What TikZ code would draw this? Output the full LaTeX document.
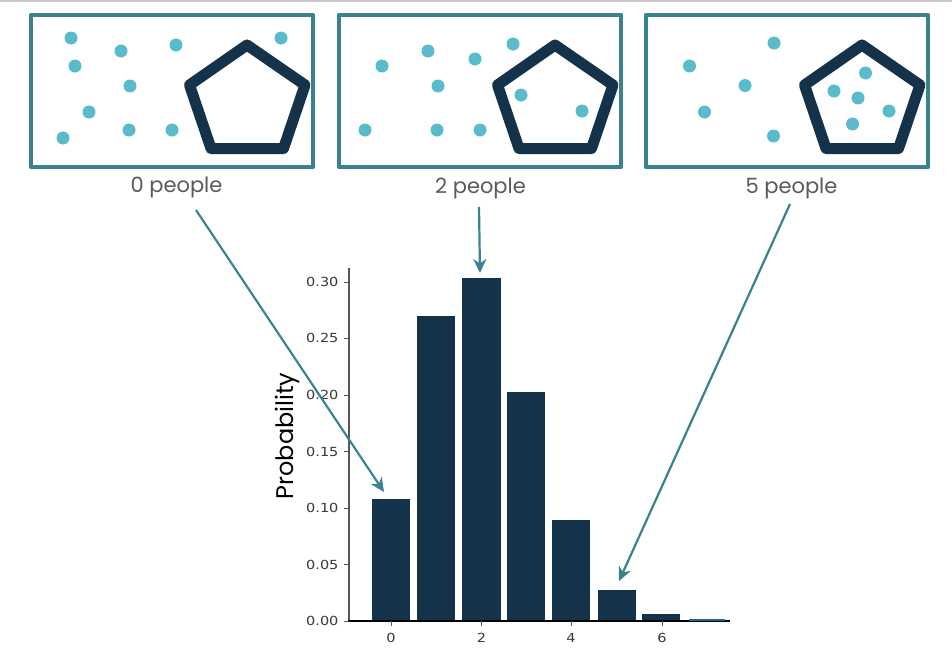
\documentclass[tikz,border=0pt]{standalone}
\usepackage{fontspec}
\setmainfont{Poppins}
\newfontfamily\tickfont[FakeStretch=1.16]{DejaVu Sans}
\usetikzlibrary{arrows.meta}
\definecolor{frameteal}{HTML}{3B8290}
\definecolor{dotblue}{HTML}{5ABBCB}
\definecolor{darknavy}{HTML}{14334A}
\definecolor{labelgray}{HTML}{5A5A5A}
\definecolor{ticktext}{HTML}{3A3A3A}
\definecolor{spinegray}{HTML}{555555}
\definecolor{lastbar}{HTML}{2A5FA8}
\tikzset{
    panelbox/.style={draw=frameteal, line width=4.2pt, line join=round},
    pentagonline/.style={draw=darknavy, line width=11pt, line join=round},
    person/.style={fill=dotblue},
    panellabel/.style={text=labelgray, font=\fontsize{21}{25}\selectfont, anchor=center},
    bar/.style={fill=darknavy},
    ticklabel/.style={text=ticktext, font=\tickfont\fontsize{12.5}{15}\selectfont},
    pointer/.style={draw=frameteal, line width=2.2pt, -{Stealth[length=14pt, width=13pt, inset=4.5pt]}},
}
\begin{document}
\begin{tikzpicture}[x=1pt, y=-1pt]
    \useasboundingbox (0,0) rectangle (952,656);
    \fill[white] (0,0) rectangle (952,656);
    \fill[black!22] (0,0) rectangle (952,2);
    % panels
    \foreach \dx in {0,308,615} {
        \draw[panelbox] (31+\dx,15) rectangle (313+\dx,167);
        \draw[pentagonline] (247+\dx,45) -- (305+\dx,85) -- (283.5+\dx,148.5) -- (211+\dx,148.5) -- (189.5+\dx,85) -- cycle;
    }
    % people
    \foreach \px/\py in {71/38,121/51,176/45,281/38,75/66,130/86,89/112,63/138,129/130,172/130,
        382/66,428/51,475/59,513/44,438/86,521/95,582/111,365/130,437/130,480/130,
        689.5/66,774/43,745/85.5,704.5/112,773.5/136,834/91,865.5/73,858/98,889/111,852.5/124}
        \fill[person] (\px,\py) circle (6.5);
    \node[panellabel] (labelzero) at (176.5,187) {0 people};
    \node[panellabel] (labeltwo) at (480.5,188) {2 people};
    \node[panellabel] (labelfive) at (791.5,188) {5 people};
    % bars
    \foreach \xa/\xb/\ytop in {372/410/499,417/455/316,462/500.5/278,507/545/392,552/590/520,597.5/635.5/590,642/680/614}
        \fill[bar] (\xa,\ytop) rectangle (\xb,621);
    % axes
    \draw[spinegray, line width=1.2pt] (349,268) -- (349,621);
    \draw[black, line width=1.2pt] (348.4,621) -- (730,621);
    \fill[lastbar] (689,619.4) rectangle (725,620.6);
    \foreach \yy/\ytext in {621/0.00,564.5/0.05,508/0.10,451.5/0.15,395/0.20,338/0.25,282/0.30} {
        \draw[spinegray, line width=1pt] (344,\yy) -- (349,\yy);
        \node[ticklabel, anchor=east] (ytick\ytext) at (342,\yy) {\ytext};
    }
    \foreach \xx/\xtext in {391/0,481.5/2,571/4,662/6} {
        \draw[spinegray, line width=1pt] (\xx,621) -- (\xx,626);
        \node[ticklabel, anchor=center] (xtick\xtext) at (\xx,637.5) {\xtext};
    }
    \node[rotate=90, font=\fontsize{24}{28}\selectfont, text=black] (ylabel) at (287,436) {Probability};
    % arrows
    \coordinate (startzero) at (196,210);
    \coordinate (endzero) at (384,492);
    \coordinate (starttwo) at (479,207);
    \coordinate (endtwo) at (480,273);
    \coordinate (startfive) at (790,204);
    \coordinate (endfive) at (619,581);
    \draw[pointer] (startzero) -- (endzero);
    \draw[pointer] (starttwo) -- (endtwo);
    \draw[pointer] (startfive) -- (endfive);
\end{tikzpicture}
\end{document}
